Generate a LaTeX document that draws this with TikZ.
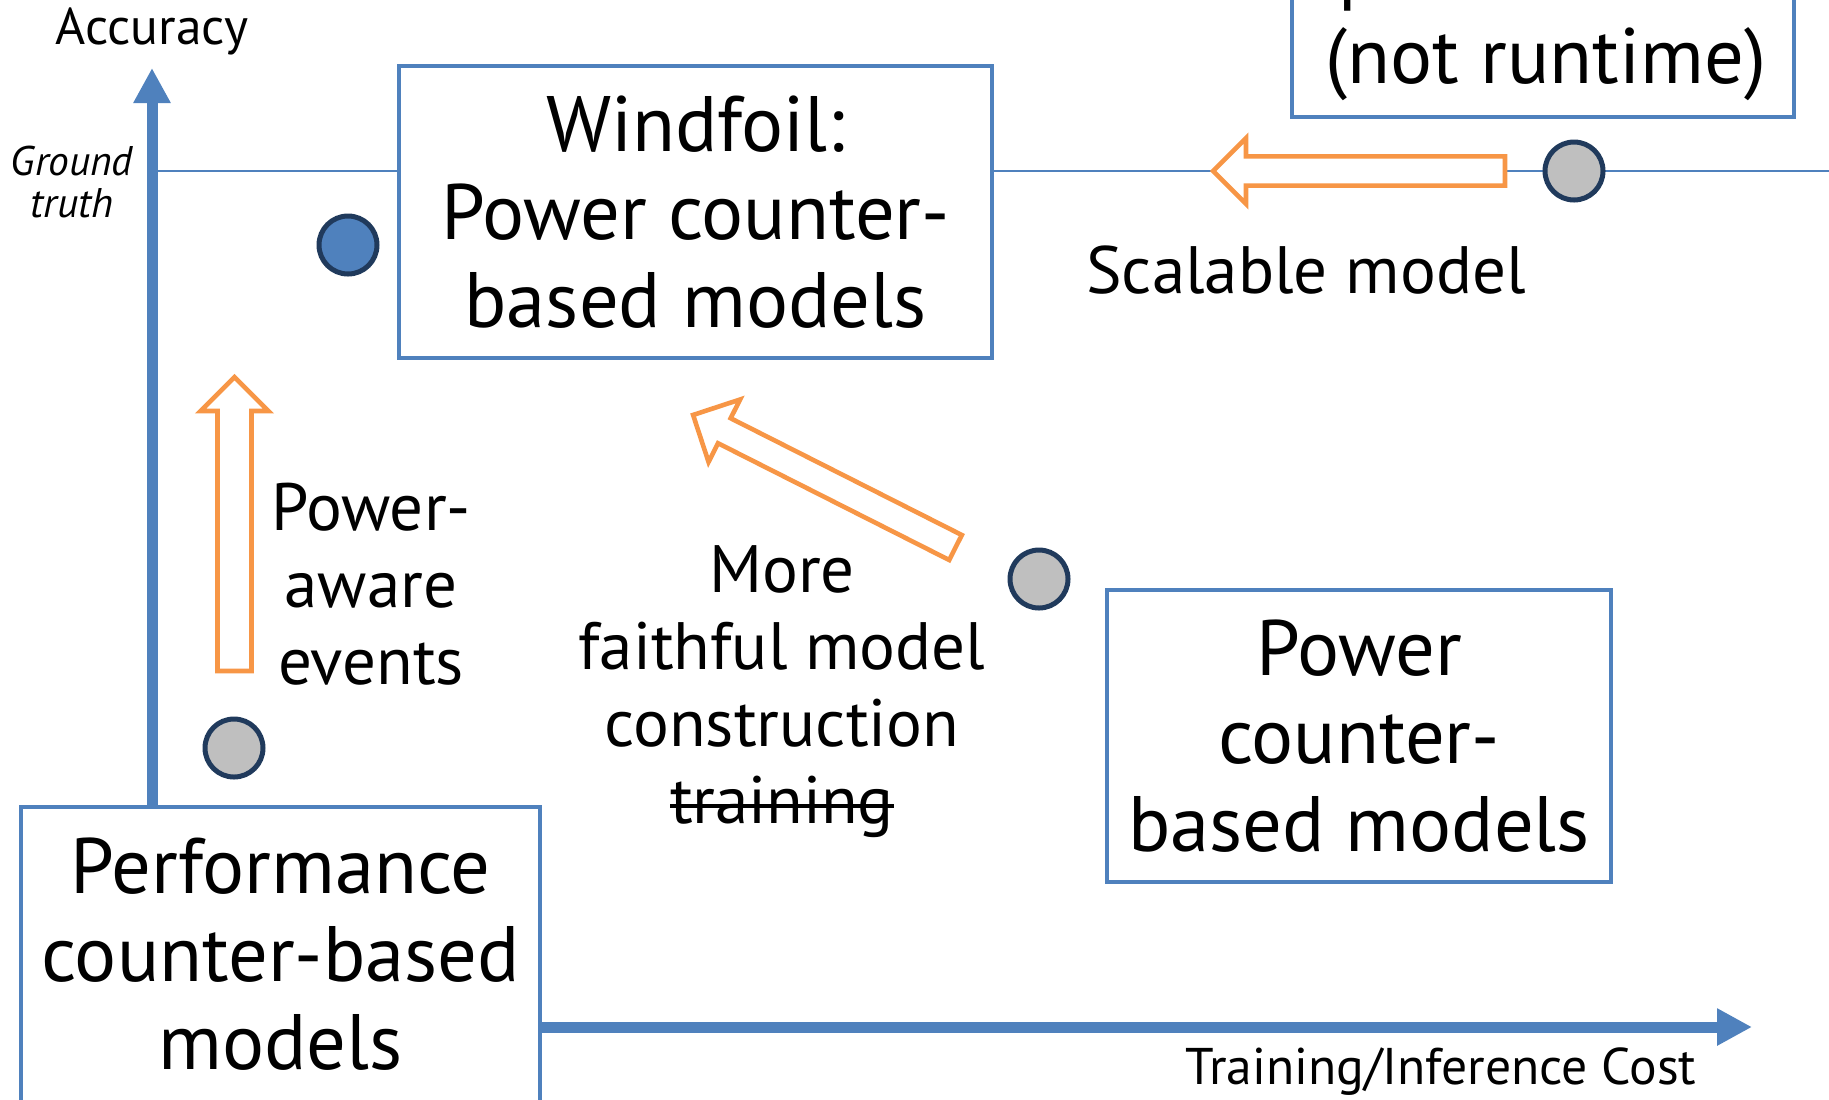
\documentclass[tikz,border=0pt]{standalone}
\usepackage{fontspec}
\setmainfont{PT Sans}
\usetikzlibrary{arrows.meta}
\definecolor{axisblue}{HTML}{4F81BD}
\definecolor{arroworange}{HTML}{F79646}
\definecolor{dotgray}{HTML}{BFBFBF}
\definecolor{dotrim}{HTML}{203A5C}

% a word with a horizontal line struck through it
\newcommand\struckword[1]{\setbox0\hbox{#1}\rlap{\usebox0}\rule[0.24em]{\wd0}{0.055em}}

\begin{document}
\begin{tikzpicture}[x=0.5pt,y=-0.5pt,
  modelbox/.style={draw=axisblue, line width=2pt, fill=white, align=center, inner sep=0pt,
                   font=\fontsize{39.3}{44}\selectfont},
  bigtext/.style={align=center, inner sep=0pt, font=\fontsize{39.3}{44}\selectfont},
  midtext/.style={align=center, inner sep=0pt, font=\fontsize{33.5}{38.5}\selectfont},
  axislabel/.style={inner sep=0pt, font=\fontsize{25.8}{28}\selectfont},
  axis/.style={draw=axisblue, line width=5.5pt, -{Triangle[length=17.5pt,width=17.5pt]}},
  truthline/.style={draw=axisblue, line width=1pt},
  hollow/.style={draw=arroworange, line width=2.3pt, fill=white, line join=miter},
  dot/.style={circle, draw=dotrim, line width=2.5pt, fill=dotgray, minimum size=29pt, inner sep=0pt},
  bluedot/.style={dot, fill=axisblue}]

\useasboundingbox (0,0) rectangle (1829,1099);
\clip (0,0) rectangle (1829,1099);

% origin box
\node[modelbox, minimum width=259.5pt, minimum height=147.5pt] (perf) at (280.5,954.5)
  {Performance\\counter-based\\models};

% ground-truth accuracy level
\coordinate (gtL) at (152,171);
\coordinate (gtR) at (1829,171);
\draw[truthline] (gtL) -- (gtR);

% axes
\coordinate (ytip) at (152,68);
\coordinate (xtip) at (1752,1027);
\draw[axis] (perf.north -| ytip) -- (ytip);
\draw[axis] (perf.east |- xtip) -- (xtip);

% model boxes
\node[modelbox, minimum width=296.5pt, minimum height=146pt] (wind) at (695.5,212)
  {Windfoil:\\Power counter-\\based models};
\node[modelbox, minimum width=252pt, minimum height=146pt] (power) at (1359,736)
  {Power\\counter-\\based models};
\node[modelbox, minimum width=251pt, minimum height=146pt] (offline) at (1543,-29) {};
\node[bigtext, anchor=base] (offlinetop) at (1360,-5) {p};
\node[bigtext] (offlinetxt) at (1546,64) {(not runtime)};

% improvement arrows
\begin{scope}[shift={(234.5,671)}, rotate=90]
  \draw[hollow] (0,-17) -- (260,-17) -- (260,-34) -- (294,0) -- (260,34) -- (260,17) -- (0,17) -- cycle;
\end{scope}
\begin{scope}[shift={(955.5,547.5)}, rotate=153.2]
  \draw[hollow] (0,-14) -- (259,-14) -- (259,-35) -- (294,0) -- (259,35) -- (259,14) -- (0,14) -- cycle;
\end{scope}
\begin{scope}[shift={(1505,171)}, rotate=180]
  \draw[hollow] (0,-14.6) -- (259,-14.6) -- (259,-33) -- (292,0) -- (259,33) -- (259,14.6) -- (0,14.6) -- cycle;
\end{scope}

% model positions
\node[bluedot] (bdot) at (348,245) {};
\node[dot] (gdotL) at (234,748) {};
\node[dot] (gdotM) at (1039,579) {};
\node[dot] (gdotR) at (1574,171) {};

% labels
\node[axislabel] (acc) at (152,31) {Accuracy};
\node[inner sep=0pt, align=center, font=\itshape\fontsize{20.7}{21}\selectfont] (gt) at (72,182) {Ground\\truth};
\node[axislabel] (cost) at (1441,1072) {Training/Inference Cost};
\node[midtext] (scal) at (1306,270) {Scalable model};
\node[midtext] (paw) at (371,584) {Power-\\aware\\events};
\node[midtext] (faith) at (782,692) {More\\faithful model\\construction\\\struckword{training}};
\end{tikzpicture}
\end{document}
